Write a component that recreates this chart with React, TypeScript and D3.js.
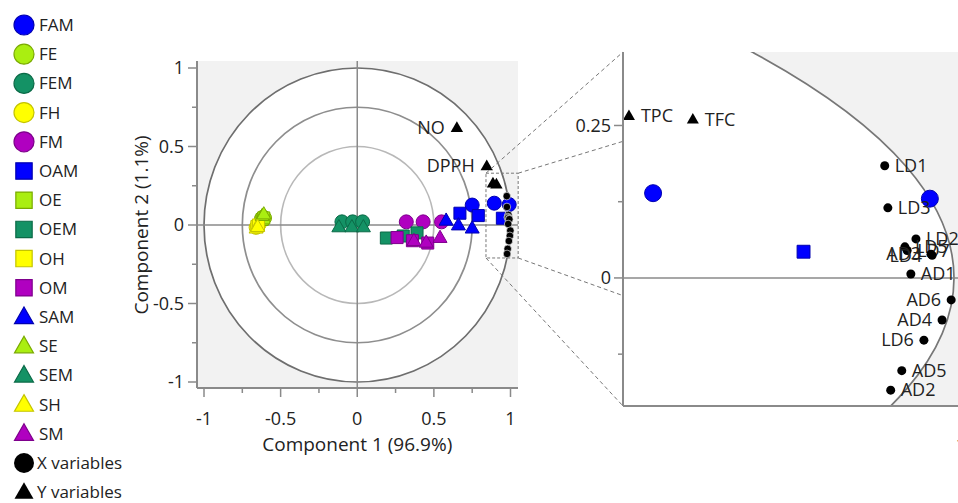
import React from "react";
import * as d3 from "d3";

// ---------- DATA ----------
const seriesNames = ["FAM", "FE", "FEM", "FH", "FM", "OAM", "OE", "OEM", "OH", "OM", "SAM", "SE", "SEM", "SH", "SM"];
const seriesShapes = ["circle", "circle", "circle", "circle", "circle", "square", "square", "square", "square", "square", "triangle", "triangle", "triangle", "triangle", "triangle"];
const seriesColorKey = ["blue", "lime", "teal", "yellow", "purple", "blue", "lime", "teal", "yellow", "purple", "blue", "lime", "teal", "yellow", "purple"];

const FAM: [number, number][] = [[0.75, 0.127], [0.894, 0.139], [0.9915, 0.13]];
const FE: [number, number][] = [[-0.625, 0.04], [-0.615, 0.05], [-0.605, 0.045]];
const FEM: [number, number][] = [[-0.1, 0.02], [-0.03, 0.02], [0.035, 0.02]];
const FH: [number, number][] = [[-0.66, -0.015], [-0.65, -0.005], [-0.64, 0.005]];
const FM: [number, number][] = [[0.32, 0.02], [0.43, 0.02], [0.55, 0.02]];
const OAM: [number, number][] = [[0.67, 0.075], [0.79, 0.06], [0.947, 0.043]];
const OE: [number, number][] = [[-0.62, 0.035], [-0.61, 0.045]];
const OEM: [number, number][] = [[0.19, -0.083], [0.3, -0.07], [0.39, -0.05]];
const OH: [number, number][] = [[-0.655, -0.01], [-0.645, 0.0]];
const OM: [number, number][] = [[0.26, -0.08], [0.36, -0.1], [0.46, -0.115]];
const SAM: [number, number][] = [[0.58, 0.03], [0.66, 0.0], [0.75, -0.02]];
const SE: [number, number][] = [[-0.62, 0.06], [-0.61, 0.07]];
const SEM: [number, number][] = [[-0.12, -0.012], [-0.035, -0.012], [0.04, -0.012]];
const SH: [number, number][] = [[-0.66, -0.02], [-0.65, -0.01]];
const SM: [number, number][] = [[0.37, -0.1], [0.45, -0.11], [0.54, -0.08]];
const seriesPoints = [FAM, FE, FEM, FH, FM, OAM, OE, OEM, OH, OM, SAM, SE, SEM, SH, SM];

// X variables (loadings)
const xVarNames = ["LD1", "LD3", "LD2", "LD5", "LD7", "AD3", "LD4", "AD1", "AD6", "AD4", "LD6", "AD5", "AD2"];
const xVarX = [0.9756, 0.9767, 0.9866, 0.9827, 0.9835, 0.9919, 0.9923, 0.9848, 0.999, 0.9958, 0.9894, 0.9816, 0.9777];
const xVarY = [0.184, 0.115, 0.064, 0.051, 0.045, 0.039, 0.037, 0.0065, -0.036, -0.069, -0.102, -0.152, -0.184];
const xVarSide = ["r", "r", "r", "r", "r", "l", "l", "r", "l", "l", "l", "r", "r"];

// Y variables
const yVarNames = ["NO", "DPPH", "TPC", "TFC"];
const yVarX = [0.65, 0.845, 0.8855, 0.908];
const yVarY = [0.62, 0.376, 0.266, 0.26];
const yVarLabelMain = [true, true, false, false];

const xTicks = [-1, -0.5, 0, 0.5, 1];
const xMinor = [-0.75, -0.25, 0.25, 0.75];
const yTicks = [-1, -0.5, 0, 0.5, 1];
const yMinor = [-0.75, -0.25, 0.25, 0.75];
const insetYTicks = [0, 0.25];
const insetYMinor = [-0.125, 0.125];
const rings = [1, 0.75, 0.5];

// ---------- STYLE ----------
const palette: Record<string, [string, string]> = {
  blue: ["#0000ff", "#0000b0"],
  lime: ["#aaee11", "#7aaa00"],
  teal: ["#149265", "#0b6a47"],
  yellow: ["#ffff00", "#c4c400"],
  purple: ["#b000c0", "#7e008c"],
};
const ringColors = ["#6e6e6e", "#8e8e8e", "#b8b8b8"];
const FONT = "'Open Sans', 'Noto Sans', sans-serif";

function shapePath(shape: string, cx: number, cy: number, s: number): string {
  if (shape === "circle") {
    return `M${cx - s},${cy}a${s},${s} 0 1,0 ${2 * s},0a${s},${s} 0 1,0 ${-2 * s},0Z`;
  }
  if (shape === "square") {
    const h = s * 0.86;
    return `M${cx - h},${cy - h}h${2 * h}v${2 * h}h${-2 * h}Z`;
  }
  const w = s * 1.0;
  const ht = s * 1.75;
  return `M${cx},${cy - ht * 0.6}L${cx + w},${cy + ht * 0.4}L${cx - w},${cy + ht * 0.4}Z`;
}

export default function App() {
  // main plot
  const x = d3.scaleLinear().domain([-1, 1]).range([204, 510.5]);
  const y = d3.scaleLinear().domain([-1, 1]).range([382, 68]);
  const pL = 197, pR = 518, pT = 61, pB = 388;

  // inset
  const ix = d3.scaleLinear().domain([0.8834, 1]).range([623, 954]);
  const iy = d3.scaleLinear().domain([-0.21, 0.3705]).range([406, 52]);
  const iL = 623, iT = 52, iB = 406, iR = 960;

  const zoomBox = { x0: 0.84, x1: 1.05, y0: -0.21, y1: 0.33 };
  const connectors: [number, number, number][] = [
    [zoomBox.x0, zoomBox.y1, 0.3705],
    [zoomBox.x1, zoomBox.y1, 0.224],
    [zoomBox.x1, zoomBox.y0, -0.029],
    [zoomBox.x0, zoomBox.y0, -0.21],
  ];

  const legendY = (i: number) => 25 + i * 29.2;

  return (
    <svg width={958} height={503} style={{ position: "absolute", left: 0, top: 0, background: "#fff" }} fontFamily={FONT}>
      <defs>
        <clipPath id="insetClip">
          <rect x={iL} y={iT} width={iR - iL} height={iB - iT} />
        </clipPath>
        <clipPath id="mainClip">
          <rect x={pL} y={pT} width={pR - pL} height={pB - pT} />
        </clipPath>
      </defs>

      {/* Legend */}
      {seriesNames.map((n, i) => {
        const [f, s] = palette[seriesColorKey[i]];
        const shp = seriesShapes[i];
        const sz = shp === "circle" ? 10 : 9.5;
        return (
          <g key={n}>
            <path d={shapePath(shp, 24, legendY(i), sz)} fill={f} stroke={s} strokeWidth={1.2} />
            <text x={39} y={legendY(i) + 6} fontSize={17} fill="#222">{n}</text>
          </g>
        );
      })}
      <circle cx={24} cy={legendY(15)} r={10} fill="#000" />
      <text x={37} y={legendY(15) + 6} fontSize={17} fill="#222">X variables</text>
      <path d={shapePath("triangle", 24, legendY(16), 9.5)} fill="#000" />
      <text x={37} y={legendY(16) + 6} fontSize={17} fill="#222">Y variables</text>

      {/* Main plot background */}
      <rect x={pL} y={pT} width={pR - pL} height={pB - pT} fill="#f2f2f2" />
      <ellipse cx={x(0)} cy={y(0)} rx={x(1) - x(0)} ry={y(0) - y(1)} fill="#fff" />
      {rings.map((r, i) => (
        <ellipse key={r} cx={x(0)} cy={y(0)} rx={x(r) - x(0)} ry={y(0) - y(r)} fill="none" stroke={ringColors[i]} strokeWidth={1.7} />
      ))}
      <line x1={pL} x2={pR} y1={y(0)} y2={y(0)} stroke="#8a8a8a" strokeWidth={1.5} />
      <line x1={x(0)} x2={x(0)} y1={pT} y2={pB} stroke="#8a8a8a" strokeWidth={1.5} />
      <line x1={pL} x2={pL} y1={pT} y2={pB} stroke="#8a8a8a" strokeWidth={2} />
      <line x1={pL} x2={pR} y1={pB} y2={pB} stroke="#8a8a8a" strokeWidth={2} />

      {/* Main axes ticks */}
      {xTicks.map((t) => (
        <g key={"xt" + t}>
          <line x1={x(t)} x2={x(t)} y1={pB} y2={pB + 9} stroke="#8a8a8a" strokeWidth={1.5} />
          <text x={x(t)} y={425} textAnchor="middle" fontSize={18} fill="#222">{String(t)}</text>
        </g>
      ))}
      {xMinor.map((t) => (
        <line key={"xm" + t} x1={x(t)} x2={x(t)} y1={pB} y2={pB + 5} stroke="#8a8a8a" strokeWidth={1.5} />
      ))}
      {yTicks.map((t) => (
        <g key={"yt" + t}>
          <line x1={pL - 9} x2={pL} y1={y(t)} y2={y(t)} stroke="#8a8a8a" strokeWidth={1.5} />
          <text x={pL - 13} y={y(t)} dy="0.35em" textAnchor="end" fontSize={18} fill="#222">{String(t)}</text>
        </g>
      ))}
      {yMinor.map((t) => (
        <line key={"ym" + t} x1={pL - 5} x2={pL} y1={y(t)} y2={y(t)} stroke="#8a8a8a" strokeWidth={1.5} />
      ))}
      <text x={x(0)} y={451} textAnchor="middle" fontSize={19} fill="#222">Component 1 (96.9%)</text>
      <text transform={`translate(141,${y(0)}) rotate(-90)`} textAnchor="middle" dy="0.35em" fontSize={19} fill="#222">Component 2 (1.1%)</text>

      {/* Main points */}
      <g clipPath="url(#mainClip)">
        {seriesPoints.map((pts, i) => {
          const [f, s] = palette[seriesColorKey[i]];
          const shp = seriesShapes[i];
          return pts.map((p, j) => (
            <path key={seriesNames[i] + j} d={shapePath(shp, x(p[0]), y(p[1]), 7)} fill={f} stroke={s} strokeWidth={1} />
          ));
        })}
        {xVarNames.map((n, i) => (
          <circle key={"mx" + n} cx={x(xVarX[i])} cy={y(xVarY[i])} r={3.8} fill="#000" stroke="#fff" strokeWidth={0.6} />
        ))}
        {yVarNames.map((n, i) => (
          <path key={"my" + n} d={shapePath("triangle", x(yVarX[i]), y(yVarY[i]), 6.2)} fill="#000" />
        ))}
      </g>
      {yVarNames.map((n, i) =>
        yVarLabelMain[i] ? (
          <text key={"myl" + n} x={x(yVarX[i]) - 12} y={y(yVarY[i])} dy="0.35em" textAnchor="end" fontSize={18} fill="#222">{n}</text>
        ) : null
      )}
      <rect x={x(zoomBox.x0)} y={y(zoomBox.y1)} width={x(zoomBox.x1) - x(zoomBox.x0)} height={y(zoomBox.y0) - y(zoomBox.y1)} fill="none" stroke="#777" strokeWidth={1} strokeDasharray="3,2" />
      {connectors.map((c, i) => (
        <line key={"cn" + i} x1={x(c[0])} y1={y(c[1])} x2={iL} y2={iy(c[2])} stroke="#777" strokeWidth={1} strokeDasharray="4,3" />
      ))}

      {/* Inset */}
      <g clipPath="url(#insetClip)">
        <rect x={iL} y={iT} width={iR - iL} height={iB - iT} fill="#f2f2f2" />
        <ellipse cx={ix(0)} cy={iy(0)} rx={ix(1) - ix(0)} ry={iy(0) - iy(1)} fill="#fff" stroke="#777" strokeWidth={1.7} />
        <line x1={iL} x2={iR} y1={iy(0)} y2={iy(0)} stroke="#8a8a8a" strokeWidth={1.5} />
        {seriesPoints.map((pts, i) => {
          const [f, s] = palette[seriesColorKey[i]];
          const shp = seriesShapes[i];
          const sz = shp === "circle" ? 8.5 : 7.5;
          return pts.map((p, j) => (
            <path key={"i" + seriesNames[i] + j} d={shapePath(shp, ix(p[0]), iy(p[1]), sz)} fill={f} stroke={s} strokeWidth={1} />
          ));
        })}
        {xVarNames.map((n, i) => (
          <g key={"ix" + n}>
            <circle cx={ix(xVarX[i])} cy={iy(xVarY[i])} r={4.5} fill="#000" />
            <text x={ix(xVarX[i]) + (xVarSide[i] === "r" ? 10 : -10)} y={iy(xVarY[i])} dy="0.35em" textAnchor={xVarSide[i] === "r" ? "start" : "end"} fontSize={18} fill="#222">{n}</text>
          </g>
        ))}
        {yVarNames.map((n, i) => (
          <g key={"iy" + n}>
            <path d={shapePath("triangle", ix(yVarX[i]), iy(yVarY[i]), 6)} fill="#000" />
            <text x={ix(yVarX[i]) + 12} y={iy(yVarY[i])} dy="0.35em" fontSize={18} fill="#222">{n}</text>
          </g>
        ))}
      </g>
      <line x1={iL} x2={iL} y1={iT} y2={iB} stroke="#8a8a8a" strokeWidth={2} />
      <line x1={iL} x2={iR} y1={iB} y2={iB} stroke="#8a8a8a" strokeWidth={2} />
      {insetYTicks.map((t) => (
        <g key={"iyt" + t}>
          <line x1={iL - 9} x2={iL} y1={iy(t)} y2={iy(t)} stroke="#8a8a8a" strokeWidth={1.5} />
          <text x={iL - 12} y={iy(t)} dy="0.35em" textAnchor="end" fontSize={18} fill="#222">{String(t)}</text>
        </g>
      ))}
      {insetYMinor.map((t) => (
        <line key={"iym" + t} x1={iL - 5} x2={iL} y1={iy(t)} y2={iy(t)} stroke="#8a8a8a" strokeWidth={1.5} />
      ))}
      <text x={ix(1) + 7} y={451} textAnchor="middle" fontSize={18} fill="#222">1</text>
    </svg>
  );
}
